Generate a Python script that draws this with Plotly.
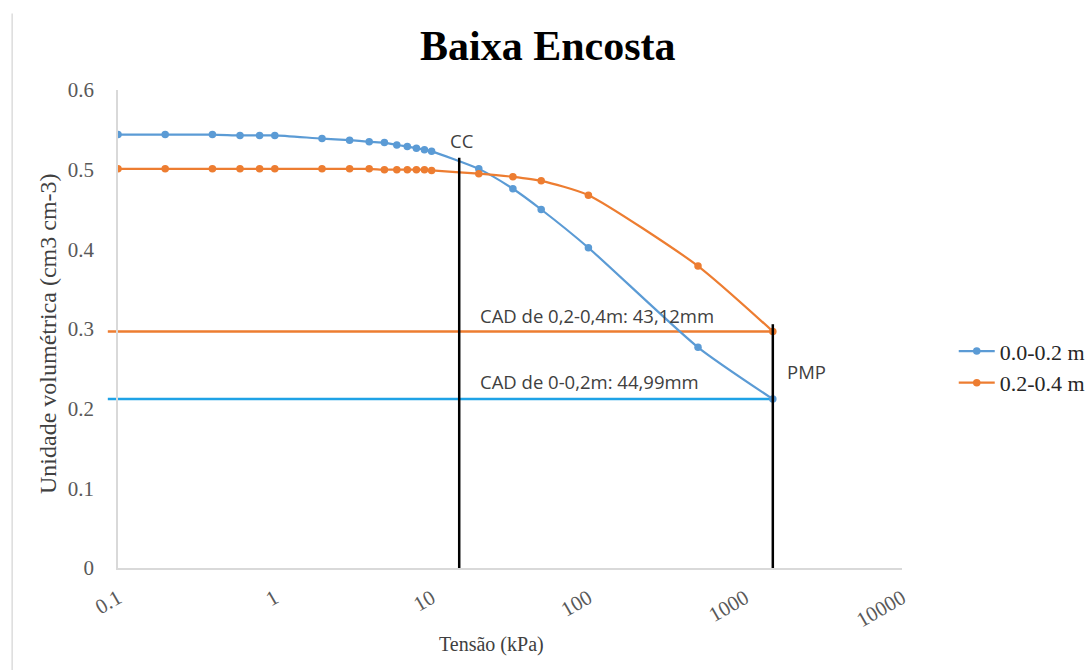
import math
import plotly.graph_objects as go

# ---------------- data ----------------
tensao_kpa = [0.1, 0.2, 0.4, 0.6, 0.8, 1, 2, 3, 4, 5, 6, 7, 8, 9, 10, 20, 33, 50, 100, 500, 1500]
theta_00_02 = [0.544, 0.544, 0.544, 0.543, 0.543, 0.543, 0.539, 0.537, 0.535, 0.534, 0.531,
               0.529, 0.527, 0.525, 0.523, 0.501, 0.476, 0.450, 0.402, 0.277, 0.212]
theta_02_04 = [0.501, 0.501, 0.501, 0.501, 0.501, 0.501, 0.501, 0.501, 0.501, 0.500, 0.500,
               0.500, 0.500, 0.500, 0.499, 0.495, 0.491, 0.486, 0.468, 0.379, 0.297]
series_names = ["0.0-0.2 m", "0.2-0.4 m"]

cc_kpa = 15
pmp_kpa = 1500
cc_top = 0.515
pmp_top = 0.306
pmp_theta = [0.212, 0.297]   # blue layer, orange layer
cad_labels = ["CAD de 0-0,2m: 44,99mm", "CAD de 0,2-0,4m: 43,12mm"]

x_ticks = [0.1, 1, 10, 100, 1000, 10000]
x_tick_text = ["0.1", "1", "10", "100", "1000", "10000"]
y_ticks = [0, 0.1, 0.2, 0.3, 0.4, 0.5, 0.6]
y_tick_text = ["0", "0.1", "0.2", "0.3", "0.4", "0.5", "0.6"]

# ---------------- style ----------------
BLUE = "#5B9BD5"
ORANGE = "#ED7D31"
CAD_BLUE = "#1FA2E6"
SERIF = "Liberation Serif, Times New Roman, serif"
SANS = "Open Sans, Noto Sans, sans-serif"

XMIN, XMAX = -1, 4


def xpaper(v):
    return (math.log10(v) - XMIN) / (XMAX - XMIN)


fig = go.Figure()
for name, vals, col in [(series_names[0], theta_00_02, BLUE), (series_names[1], theta_02_04, ORANGE)]:
    fig.add_trace(go.Scatter(
        x=tensao_kpa, y=vals, name=name, mode="lines+markers",
        line=dict(color=col, width=2.2, shape="spline", smoothing=0.6),
        marker=dict(color=col, size=7.5, symbol="circle"),
    ))

shapes = []
# CAD horizontal lines (extend slightly left of the y axis like the original)
for th, col in [(pmp_theta[1], ORANGE), (pmp_theta[0], CAD_BLUE)]:
    shapes.append(dict(type="line", xref="paper", yref="y", x0=-0.013, x1=xpaper(pmp_kpa),
                       y0=th, y1=th, line=dict(color=col, width=2.5), layer="below"))
# CC and PMP vertical lines
shapes.append(dict(type="line", xref="paper", yref="y", x0=xpaper(cc_kpa), x1=xpaper(cc_kpa),
                   y0=0, y1=cc_top, line=dict(color="black", width=2.5)))
shapes.append(dict(type="line", xref="paper", yref="y", x0=xpaper(pmp_kpa), x1=xpaper(pmp_kpa),
                   y0=0, y1=pmp_top, line=dict(color="black", width=2.5)))
# faint border line at the far left of the picture
shapes.append(dict(type="line", xref="paper", yref="paper", x0=-0.135, x1=-0.135,
                   y0=-0.22, y1=1.16, line=dict(color="#dcdcdc", width=1.5)))

ann_font = dict(family=SANS, size=18.5, color="#404040")
annotations = [
    dict(text="CC", xref="paper", yref="y", x=xpaper(cc_kpa) + 0.004, y=cc_top + 0.022,
         showarrow=False, font=ann_font, xanchor="center", yanchor="middle"),
    dict(text=cad_labels[1], xref="paper", yref="y", x=xpaper(cc_kpa) + 0.024, y=pmp_theta[1] + 0.020,
         showarrow=False, font=ann_font, xanchor="left", yanchor="middle"),
    dict(text=cad_labels[0], xref="paper", yref="y", x=xpaper(cc_kpa) + 0.024, y=pmp_theta[0] + 0.022,
         showarrow=False, font=ann_font, xanchor="left", yanchor="middle"),
    dict(text="PMP", xref="paper", yref="y", x=xpaper(pmp_kpa) + 0.016, y=0.247,
         showarrow=False, font=ann_font, xanchor="left", yanchor="middle"),
    dict(text="Tensão (kPa)", xref="paper", yref="paper", x=0.477, y=-0.161,
         showarrow=False, font=dict(family=SERIF, size=20, color="#404040"),
         xanchor="center", yanchor="middle"),
    dict(text="Unidade volumétrica (cm3 cm-3)", xref="paper", yref="paper", x=-0.089, y=0.49,
         showarrow=False, textangle=-90, font=dict(family=SERIF, size=24, color="#404040"),
         xanchor="center", yanchor="middle"),
]

fig.update_layout(
    width=1089, height=670,
    margin=dict(l=118, r=187, t=90, b=102, autoexpand=False),
    paper_bgcolor="white", plot_bgcolor="white",
    title=dict(text="<b>Baixa Encosta</b>", x=0.503, xref="container", xanchor="center",
               y=0.933, yref="container", yanchor="middle",
               font=dict(family=SERIF, size=42, color="black")),
    shapes=shapes, annotations=annotations,
    showlegend=True,
    legend=dict(x=1.066, y=0.42, xanchor="left", yanchor="middle",
                font=dict(family=SERIF, size=22, color="#262626"),
                bgcolor="rgba(0,0,0,0)", tracegroupgap=4, itemwidth=36),
)
fig.update_xaxes(type="log", range=[XMIN, XMAX], tickvals=x_ticks, ticktext=x_tick_text,
                 tickangle=-30, showgrid=False, zeroline=False, showline=True,
                 linecolor="#d9d9d9", linewidth=1.5, ticks="", ticklabelstandoff=8,
                 automargin=False,
                 tickfont=dict(family=SERIF, size=21, color="#595959"))
fig.update_yaxes(range=[0, 0.6], tickvals=y_ticks, ticktext=y_tick_text, showgrid=False,
                 zeroline=False, showline=True, linecolor="#d9d9d9", linewidth=1.5, ticks="",
                 ticklabelstandoff=18, automargin=False,
                 tickfont=dict(family=SERIF, size=21, color="#595959"))

fig.write_html("out.html")
